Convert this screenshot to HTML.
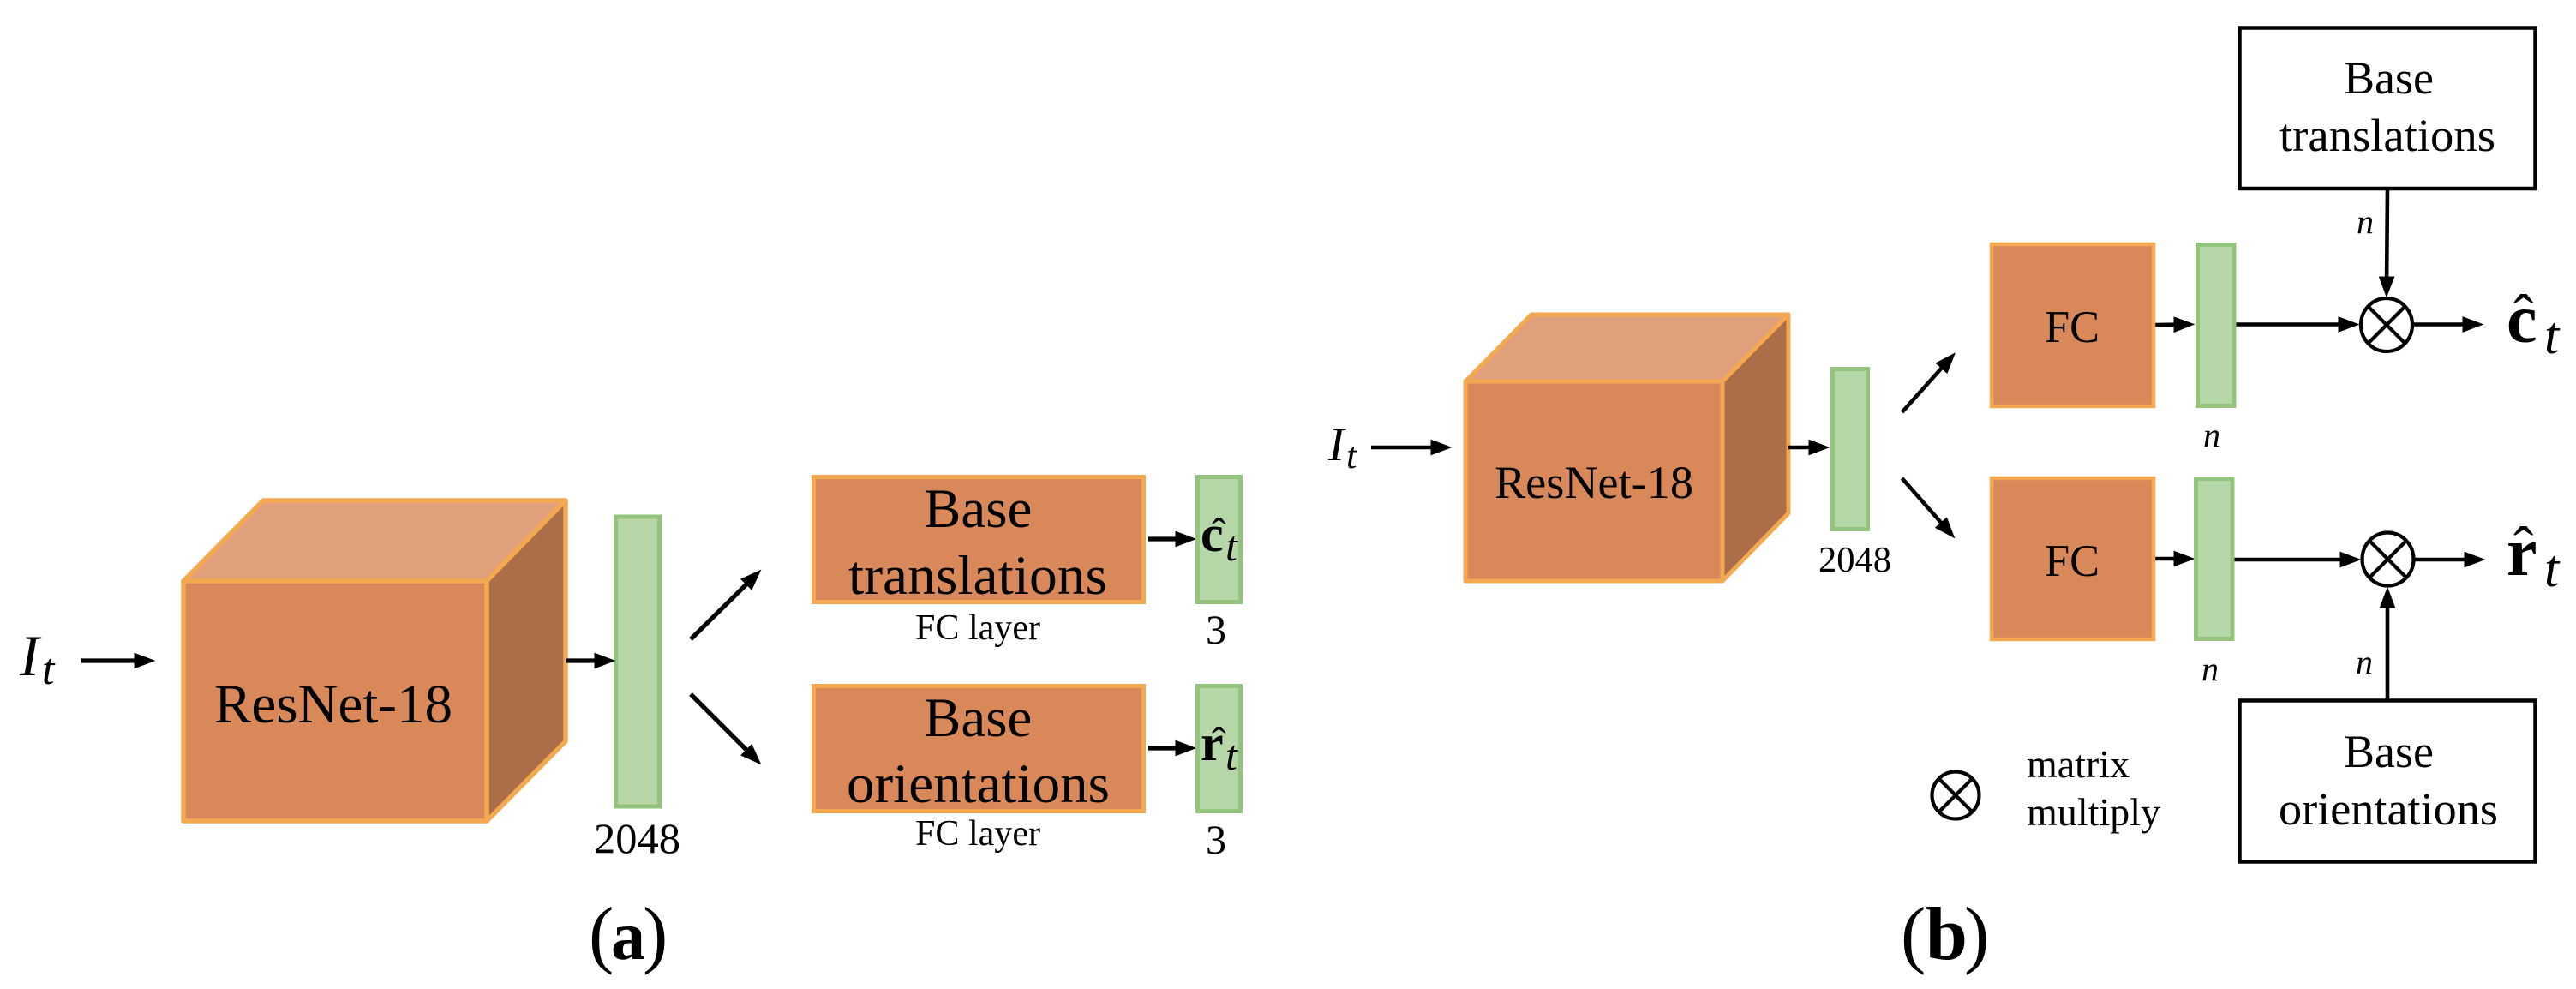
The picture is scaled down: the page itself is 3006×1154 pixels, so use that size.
<!DOCTYPE html>
<html><head><meta charset="utf-8"><style>html,body{margin:0;padding:0;background:#fff}svg{display:block}text{font-family:"Liberation Serif",serif;fill:#000}.i{font-style:italic}.b{font-weight:bold}</style></head><body>
<svg width="3006" height="1154" viewBox="0 0 3006 1154" xmlns="http://www.w3.org/2000/svg">
<defs>
<marker id="h" markerUnits="userSpaceOnUse" viewBox="0 0 24 18" refX="14" refY="9" markerWidth="25" markerHeight="19" orient="auto"><path d="M0 0L24 9L0 18Z" fill="#000"/></marker>
</defs>
<!-- (a) cube -->
<g stroke="#f4a84f" stroke-width="5.5" stroke-linejoin="round">
<path d="M214 678L307 584H660L568 678Z" fill="#dfa07b"/>
<path d="M568 678L660 584V865L568 958Z" fill="#ab6e48"/>
<rect x="214" y="678" width="354" height="280" fill="#d9885a"/>
</g>
<rect x="718.5" y="603" width="51" height="338" fill="#b6d7a8" stroke="#93c47d" stroke-width="5"/>
<text x="250" y="843" font-size="65" textLength="278" lengthAdjust="spacingAndGlyphs">ResNet-18</text>
<text x="693" y="995" font-size="50" textLength="101" lengthAdjust="spacingAndGlyphs">2048</text>
<text x="23" y="788" font-size="68" class="i">I</text>
<text x="49" y="798" font-size="52" class="i">t</text>
<g stroke="#000" stroke-width="5.2" fill="none" marker-end="url(#h)">
<line x1="95" y1="771" x2="171" y2="771"/>
<line x1="660" y1="771" x2="708" y2="771"/>
<line x1="806" y1="746" x2="881" y2="672"/>
<line x1="806" y1="810" x2="881" y2="885"/>
<line x1="1340" y1="629" x2="1386" y2="629"/>
<line x1="1340" y1="873" x2="1386" y2="873"/>
</g>
<rect x="949.5" y="556.5" width="385" height="146" fill="#d9885a" stroke="#f4a84f" stroke-width="5"/>
<rect x="949.5" y="800.5" width="385" height="146" fill="#d9885a" stroke="#f4a84f" stroke-width="5"/>
<rect x="1397.5" y="556.5" width="50" height="146" fill="#b6d7a8" stroke="#93c47d" stroke-width="5"/>
<rect x="1397.5" y="800.5" width="50" height="146" fill="#b6d7a8" stroke="#93c47d" stroke-width="5"/>
<text x="1078" y="615" font-size="65">Base</text>
<text x="990" y="693" font-size="65" textLength="302" lengthAdjust="spacingAndGlyphs">translations</text>
<text x="1078" y="859" font-size="65">Base</text>
<text x="988" y="936" font-size="65" textLength="307" lengthAdjust="spacingAndGlyphs">orientations</text>
<text x="1068" y="746" font-size="42" textLength="146" lengthAdjust="spacingAndGlyphs">FC layer</text>
<text x="1068" y="986" font-size="42" textLength="146" lengthAdjust="spacingAndGlyphs">FC layer</text>
<text x="1407" y="751" font-size="48">3</text>
<text x="1407" y="996" font-size="48">3</text>
<text x="1401" y="643" font-size="60" class="b">c</text>
<text x="1414" y="639" font-size="50">ˆ</text>
<text x="1430" y="654" font-size="50" class="i">t</text>
<text x="1401" y="887" font-size="60" class="b">r</text>
<text x="1414" y="883" font-size="50">ˆ</text>
<text x="1430" y="898" font-size="50" class="i">t</text>
<text x="687" y="1119" font-size="88">(</text>
<text x="713" y="1119" font-size="80" class="b">a</text>
<text x="750" y="1119" font-size="88">)</text>
<!-- (b) cube -->
<g stroke="#f4a84f" stroke-width="5" stroke-linejoin="round">
<path d="M1710 445L1787 367H2087L2010 445Z" fill="#dfa07b"/>
<path d="M2010 445L2087 367V599L2010 678Z" fill="#ab6e48"/>
<rect x="1710" y="445" width="300" height="233" fill="#d9885a"/>
</g>
<rect x="2138.5" y="430.5" width="41" height="187" fill="#b6d7a8" stroke="#93c47d" stroke-width="5"/>
<text x="1744" y="581" font-size="54" textLength="232" lengthAdjust="spacingAndGlyphs">ResNet-18</text>
<text x="2122" y="667" font-size="42.5" textLength="85" lengthAdjust="spacingAndGlyphs">2048</text>
<text x="1550" y="537" font-size="56" class="i">I</text>
<text x="1571" y="546" font-size="44" class="i">t</text>
<g stroke="#000" stroke-width="4.6" fill="none" marker-end="url(#h)">
<line x1="1600" y1="522" x2="1684" y2="522"/>
<line x1="2087" y1="522" x2="2125" y2="522"/>
<line x1="2219.5" y1="481" x2="2275" y2="419"/>
<line x1="2219.5" y1="558" x2="2274.4" y2="620.5"/>
<line x1="2514" y1="379" x2="2551" y2="378.5"/>
<line x1="2609" y1="378.5" x2="2743" y2="378.5"/>
<line x1="2816" y1="378.5" x2="2888" y2="378.5"/>
<line x1="2786" y1="221" x2="2785" y2="337"/>
<line x1="2513" y1="652" x2="2551" y2="652"/>
<line x1="2607" y1="653" x2="2745" y2="653"/>
<line x1="2818" y1="653" x2="2890" y2="653"/>
<line x1="2786" y1="816" x2="2786" y2="695"/>
</g>
<rect x="2324" y="285" width="189" height="189" fill="#d9885a" stroke="#f4a84f" stroke-width="4.5"/>
<rect x="2564.5" y="285.5" width="42.5" height="188" fill="#b6d7a8" stroke="#93c47d" stroke-width="5"/>
<rect x="2324" y="558" width="189" height="188" fill="#d9885a" stroke="#f4a84f" stroke-width="4.5"/>
<rect x="2562.5" y="558.5" width="42.5" height="187" fill="#b6d7a8" stroke="#93c47d" stroke-width="5"/>
<text x="2386" y="399" font-size="53" textLength="64" lengthAdjust="spacingAndGlyphs">FC</text>
<text x="2386" y="672" font-size="53" textLength="64" lengthAdjust="spacingAndGlyphs">FC</text>
<rect x="2613.5" y="32.5" width="345" height="187.5" fill="#fff" stroke="#000" stroke-width="4.5"/>
<rect x="2613.5" y="817.5" width="345" height="188" fill="#fff" stroke="#000" stroke-width="4.5"/>
<text x="2735" y="109" font-size="54">Base</text>
<text x="2660" y="176" font-size="54" textLength="252" lengthAdjust="spacingAndGlyphs">translations</text>
<text x="2735" y="895" font-size="54">Base</text>
<text x="2659" y="962" font-size="54" textLength="256" lengthAdjust="spacingAndGlyphs">orientations</text>
<text x="2750" y="272" font-size="40" class="i">n</text>
<text x="2571" y="521" font-size="40" class="i">n</text>
<text x="2749" y="786" font-size="40" class="i">n</text>
<text x="2569" y="794" font-size="40" class="i">n</text>
<g fill="#fff" stroke="#000" stroke-width="4.2">
<ellipse cx="2785" cy="379" rx="30" ry="31"/>
<path d="M2764 358L2806 400M2806 358L2764 400" fill="none"/>
<ellipse cx="2786.5" cy="652.5" rx="30" ry="31"/>
<path d="M2765.5 631.5L2807.5 673.5M2807.5 631.5L2765.5 673.5" fill="none"/>
<ellipse cx="2282" cy="928" rx="27.5" ry="27.5"/>
<path d="M2263 909L2301 947M2301 909L2263 947" fill="none"/>
</g>
<text x="2365" y="907" font-size="46" textLength="120" lengthAdjust="spacingAndGlyphs">matrix</text>
<text x="2365" y="963" font-size="46" textLength="156" lengthAdjust="spacingAndGlyphs">multiply</text>
<text x="2925" y="399" font-size="80" class="b">c</text>
<text x="2933" y="392" font-size="70">ˆ</text>
<text x="2969" y="412" font-size="62" class="i">t</text>
<text x="2925" y="671" font-size="80" class="b">r</text>
<text x="2933" y="663" font-size="70">ˆ</text>
<text x="2969" y="684" font-size="62" class="i">t</text>
<text x="2218" y="1119" font-size="88">(</text>
<text x="2247" y="1119" font-size="88" class="b">b</text>
<text x="2292" y="1119" font-size="88">)</text>
</svg>
</body></html>
